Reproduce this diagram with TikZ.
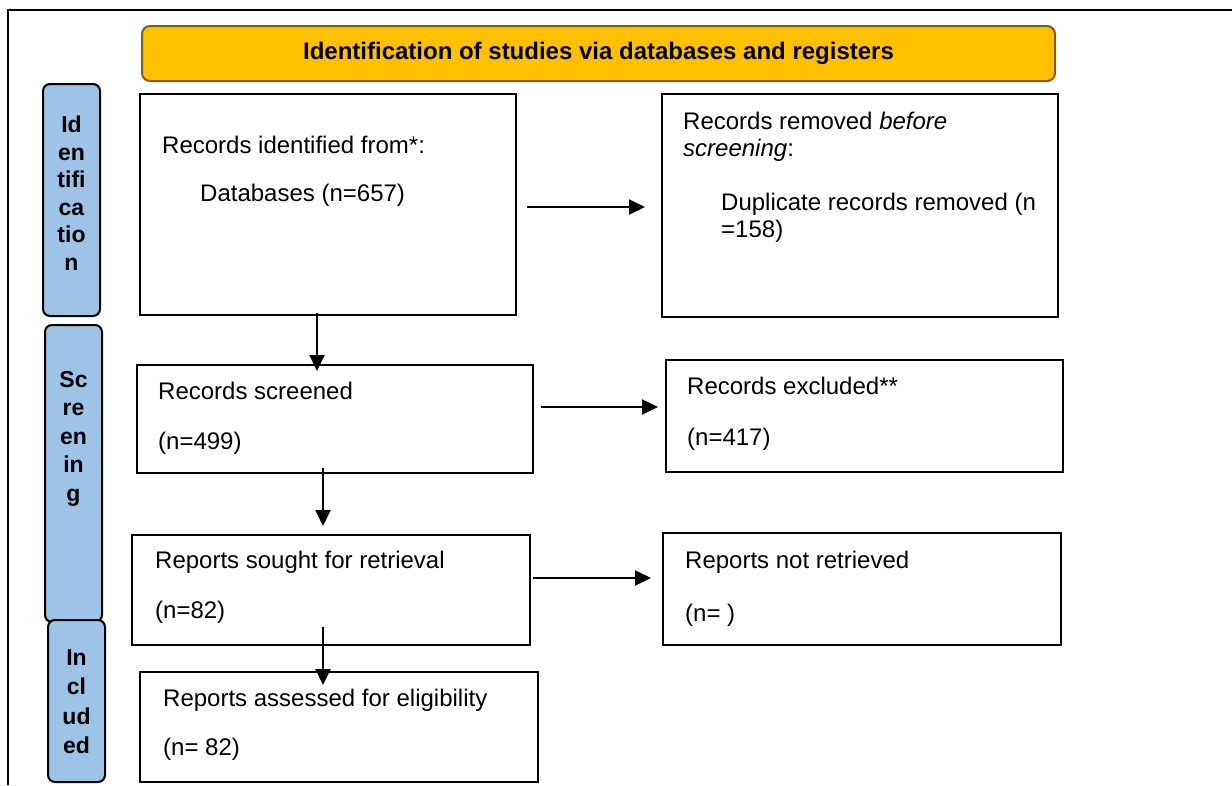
\documentclass[tikz,border=0pt]{standalone}
\usepackage{fontspec}
\setmainfont{Liberation Sans}
\usetikzlibrary{arrows.meta}
\definecolor{headfill}{HTML}{FFC000}
\definecolor{headline}{HTML}{7F6000}
\definecolor{phasefill}{HTML}{9DC3E6}
\begin{document}
\begin{tikzpicture}
[x=1pt,y=-1pt,
 box/.style={draw=black,line width=2.5pt,inner sep=0pt,outer sep=0pt},
 phase/.style={draw=black,line width=2pt,fill=phasefill,rounded corners=7pt,
   minimum width=57pt,inner sep=0pt,outer sep=0pt},
 phasetxt/.style={align=center,inner sep=0pt,anchor=north},
 head/.style={draw=headline,line width=2pt,fill=headfill,rounded corners=8pt,
   minimum width=913pt,minimum height=55pt,inner sep=0pt,
   font=\bfseries\fontsize{24}{27}\selectfont},
 txt/.style={inner sep=0pt,anchor=base west,font=\fontsize{24}{27}\selectfont},
 arr/.style={line width=2pt,-{Triangle[length=16pt,width=15pt]}}]
\useasboundingbox (0,0) rectangle (1232,785);
% outer table rule
\draw[line width=2.5pt] (1232,10) -- (8,10) -- (8,785);
% header
\node[head] (headbar) at (598.5,53.5) {Identification of studies via databases and registers};
% phase labels
\node[phase,minimum height=232pt] (phaseId)  at (71.5,200)   {};
\node[phase,minimum height=297pt] (phaseScr) at (73.5,473.5) {};
\node[phase,minimum height=162pt] (phaseInc) at (76.5,701)   {};
\node[phasetxt,font=\bfseries\fontsize{23}{27.5}\selectfont] (phaseIdT)  at (71.5,116) {Id\\en\\tifi\\ca\\tio\\n};
\node[phasetxt,font=\bfseries\fontsize{23}{28.5}\selectfont] (phaseScrT) at (73.5,371) {Sc\\re\\en\\in\\g};
\node[phasetxt,font=\bfseries\fontsize{23}{29.5}\selectfont] (phaseIncT) at (76.5,649) {In\\cl\\ud\\ed};
% boxes
\node[box,minimum width=376pt,minimum height=221pt] (ident)    at (328,204.5) {};
\node[box,minimum width=396pt,minimum height=223pt] (removed)  at (860,205.5) {};
\node[box,minimum width=396pt,minimum height=108pt] (screened) at (335,419)   {};
\node[box,minimum width=397pt,minimum height=112pt] (excluded) at (864.5,416) {};
\node[box,minimum width=398pt,minimum height=110pt] (sought)   at (331,590)   {};
\node[box,minimum width=398pt,minimum height=112pt] (notret)   at (862,589)   {};
\node[box,minimum width=398pt,minimum height=110pt] (assessed) at (339,727)   {};
% box texts
\node[txt] (identA)    at (162,153.5) {Records identified from*:};
\node[txt] (identB)    at (200,201.5) {Databases (n=657)};
\node[txt] (removedA)  at (683,129.5) {Records removed \textit{before}};
\node[txt] (removedB)  at (683,156.5) {\textit{screening}:};
\node[txt] (removedC)  at (721,210.5) {Duplicate records removed (n};
\node[txt] (removedD)  at (721,237.5) {=158)};
\node[txt] (screenedA) at (158,399.5) {Records screened};
\node[txt] (screenedB) at (158,449.5) {(n=499)};
\node[txt] (excludedA) at (687,394.5) {Records excluded**};
\node[txt] (excludedB) at (687,445.5) {(n=417)};
\node[txt] (soughtA)   at (155,568.5) {Reports sought for retrieval};
\node[txt] (soughtB)   at (155,618.5) {(n=82)};
\node[txt] (notretA)   at (685,568.5) {Reports not retrieved};
\node[txt] (notretB)   at (685,621.5) {(n= )};
\node[txt] (assessedA) at (163,706.5) {Reports assessed for eligibility};
\node[txt] (assessedB) at (163,755.5) {(n= 82)};
% arrows
\draw[arr,shorten <=11pt,shorten >=17pt] ([yshift=-2.5pt]ident.east) -- ([yshift=-2.5pt]ident.east -| removed.west);
\draw[arr,shorten <=8pt,shorten >=8pt]   ([yshift=12pt]screened.east) -- ([yshift=12pt]screened.east -| excluded.west);
\draw[arr,shorten <=3pt,shorten >=12pt]  ([yshift=12pt]sought.east) -- ([yshift=12pt]sought.east -| notret.west);
\draw[arr,shorten <=-2pt,shorten >=-6pt] ([xshift=-11pt]ident.south) -- ([xshift=-11pt]ident.south |- screened.north);
\draw[arr,shorten <=-5pt,shorten >=9pt]  ([xshift=-12pt]screened.south) -- ([xshift=-12pt]screened.south |- sought.north);
\draw[arr,shorten <=-18pt,shorten >=-13pt] ([xshift=-8pt]sought.south) -- ([xshift=-8pt]sought.south |- assessed.north);
\end{tikzpicture}
\end{document}
